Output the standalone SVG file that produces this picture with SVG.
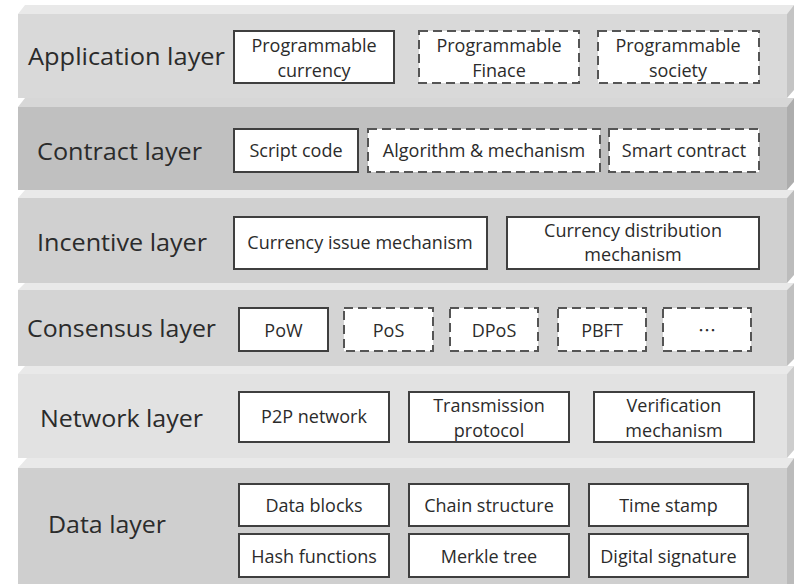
<svg xmlns="http://www.w3.org/2000/svg" width="796" height="584" viewBox="0 0 796 584">
<style>
.lbl{font-family:"Open Sans","Liberation Sans",sans-serif;font-size:24px;fill:#2b2b2b}
.t{font-family:"Open Sans","Liberation Sans",sans-serif;font-size:18px;fill:#2b2b2b;text-anchor:middle}
.b{fill:#ffffff;stroke:#3f3f3f;stroke-width:2}
.d{fill:#ffffff;stroke:#555555;stroke-width:2;stroke-dasharray:9 5}
.top{fill:#e9e9e9}
</style>
<rect width="796" height="584" fill="#ffffff"/>
<!-- Application layer -->
<g id="application-layer">
<polygon class="top" points="18,14 25,5 794,5 787,14"/>
<rect x="18" y="14" width="769" height="84" fill="#d9d9d9"/>
<polygon points="787,14 794,5 794,90 787,98" fill="#c4c4c4"/>
<text class="lbl" x="28" y="65" textLength="197" lengthAdjust="spacingAndGlyphs">Application layer</text>
</g>
<g id="programmable-currency"><rect class="b" x="234" y="31" width="160" height="52"/><text class="t" x="314" y="52">Programmable</text><text class="t" x="314" y="77">currency</text></g>
<g id="programmable-finace"><rect class="d" x="419" y="31" width="160" height="52"/><text class="t" x="499" y="52">Programmable</text><text class="t" x="499" y="77">Finace</text></g>
<g id="programmable-society"><rect class="d" x="598" y="31" width="161" height="52"/><text class="t" x="678" y="52">Programmable</text><text class="t" x="678" y="77">society</text></g>
<!-- Contract layer -->
<g id="contract-layer">
<polygon class="top" points="18,107 25,98 794,98 787,107" fill="#d7d7d7" style="fill:#d7d7d7"/>
<rect x="18" y="107" width="769" height="83" fill="#c0c0c0"/>
<polygon points="787,107 794,98 794,182 787,190" fill="#adadad"/>
<text class="lbl" x="37" y="160" textLength="165" lengthAdjust="spacingAndGlyphs">Contract layer</text>
</g>
<g id="script-code"><rect class="b" x="234" y="129" width="124" height="43"/><text class="t" x="296" y="157">Script code</text></g>
<g id="algorithm-mechanism"><rect class="d" x="368" y="129" width="232" height="43"/><text class="t" x="484" y="157">Algorithm &amp; mechanism</text></g>
<g id="smart-contract"><rect class="d" x="609" y="129" width="150" height="43"/><text class="t" x="684" y="157">Smart contract</text></g>
<!-- Incentive layer -->
<g id="incentive-layer">
<polygon class="top" points="18,198 25,190 794,190 787,198"/>
<rect x="18" y="198" width="769" height="85" fill="#d0d0d0"/>
<polygon points="787,198 794,190 794,275 787,283" fill="#bcbcbc"/>
<text class="lbl" x="37" y="251" textLength="170" lengthAdjust="spacingAndGlyphs">Incentive layer</text>
</g>
<g id="currency-issue-mechanism"><rect class="b" x="234" y="217" width="253" height="52"/><text class="t" x="360" y="249">Currency issue mechanism</text></g>
<g id="currency-distribution-mechanism"><rect class="b" x="507" y="217" width="252" height="52"/><text class="t" x="633" y="237">Currency distribution</text><text class="t" x="633" y="261">mechanism</text></g>
<!-- Consensus layer -->
<g id="consensus-layer">
<polygon class="top" points="18,290 25,283 794,283 787,290"/>
<rect x="18" y="290" width="769" height="76" fill="#d4d4d4"/>
<polygon points="787,290 794,283 794,359 787,366" fill="#c0c0c0"/>
<text class="lbl" x="27" y="337" textLength="189" lengthAdjust="spacingAndGlyphs">Consensus layer</text>
</g>
<g id="pow"><rect class="b" x="239" y="308" width="89" height="43"/><text class="t" x="283.5" y="337">PoW</text></g>
<g id="pos"><rect class="d" x="344" y="308" width="89" height="43"/><text class="t" x="388.5" y="337">PoS</text></g>
<g id="dpos"><rect class="d" x="450" y="308" width="88" height="43"/><text class="t" x="494" y="337">DPoS</text></g>
<g id="pbft"><rect class="d" x="558" y="308" width="88" height="43"/><text class="t" x="602" y="337">PBFT</text></g>
<g id="more"><rect class="d" x="663" y="308" width="88" height="43"/><text class="t" x="707" y="337" style="font-family:'Noto Sans CJK SC',sans-serif">…</text></g>
<!-- Network layer -->
<g id="network-layer">
<polygon class="top" points="18,374 25,366 794,366 787,374"/>
<rect x="18" y="374" width="769" height="84" fill="#e2e2e2"/>
<polygon points="787,374 794,366 794,450 787,458" fill="#cdcdcd"/>
<text class="lbl" x="40" y="427" textLength="163" lengthAdjust="spacingAndGlyphs">Network layer</text>
</g>
<g id="p2p-network"><rect class="b" x="239" y="392" width="150" height="50"/><text class="t" x="314" y="423">P2P network</text></g>
<g id="transmission-protocol"><rect class="b" x="409" y="392" width="160" height="50"/><text class="t" x="489" y="412">Transmission</text><text class="t" x="489" y="437">protocol</text></g>
<g id="verification-mechanism"><rect class="b" x="594" y="392" width="160" height="50"/><text class="t" x="674" y="412">Verification</text><text class="t" x="674" y="437">mechanism</text></g>
<!-- Data layer -->
<g id="data-layer">
<polygon class="top" points="18,468 27,458 794,458 787,468"/>
<rect x="18" y="468" width="769" height="116" fill="#cfcfcf"/>
<polygon points="787,468 794,458 794,584 787,584" fill="#bbbbbb"/>
<text class="lbl" x="48" y="533" textLength="118" lengthAdjust="spacingAndGlyphs">Data layer</text>
</g>
<g id="data-blocks"><rect class="b" x="239" y="484" width="150" height="42"/><text class="t" x="314" y="512">Data blocks</text></g>
<g id="chain-structure"><rect class="b" x="409" y="484" width="160" height="42"/><text class="t" x="489" y="512">Chain structure</text></g>
<g id="time-stamp"><rect class="b" x="589" y="484" width="159" height="42"/><text class="t" x="668.5" y="512">Time stamp</text></g>
<g id="hash-functions"><rect class="b" x="239" y="534" width="150" height="43"/><text class="t" x="314" y="563">Hash functions</text></g>
<g id="merkle-tree"><rect class="b" x="409" y="534" width="160" height="43"/><text class="t" x="489" y="563">Merkle tree</text></g>
<g id="digital-signature"><rect class="b" x="589" y="534" width="159" height="43"/><text class="t" x="668.5" y="563">Digital signature</text></g>
<g id="connectors"/>
</svg>
